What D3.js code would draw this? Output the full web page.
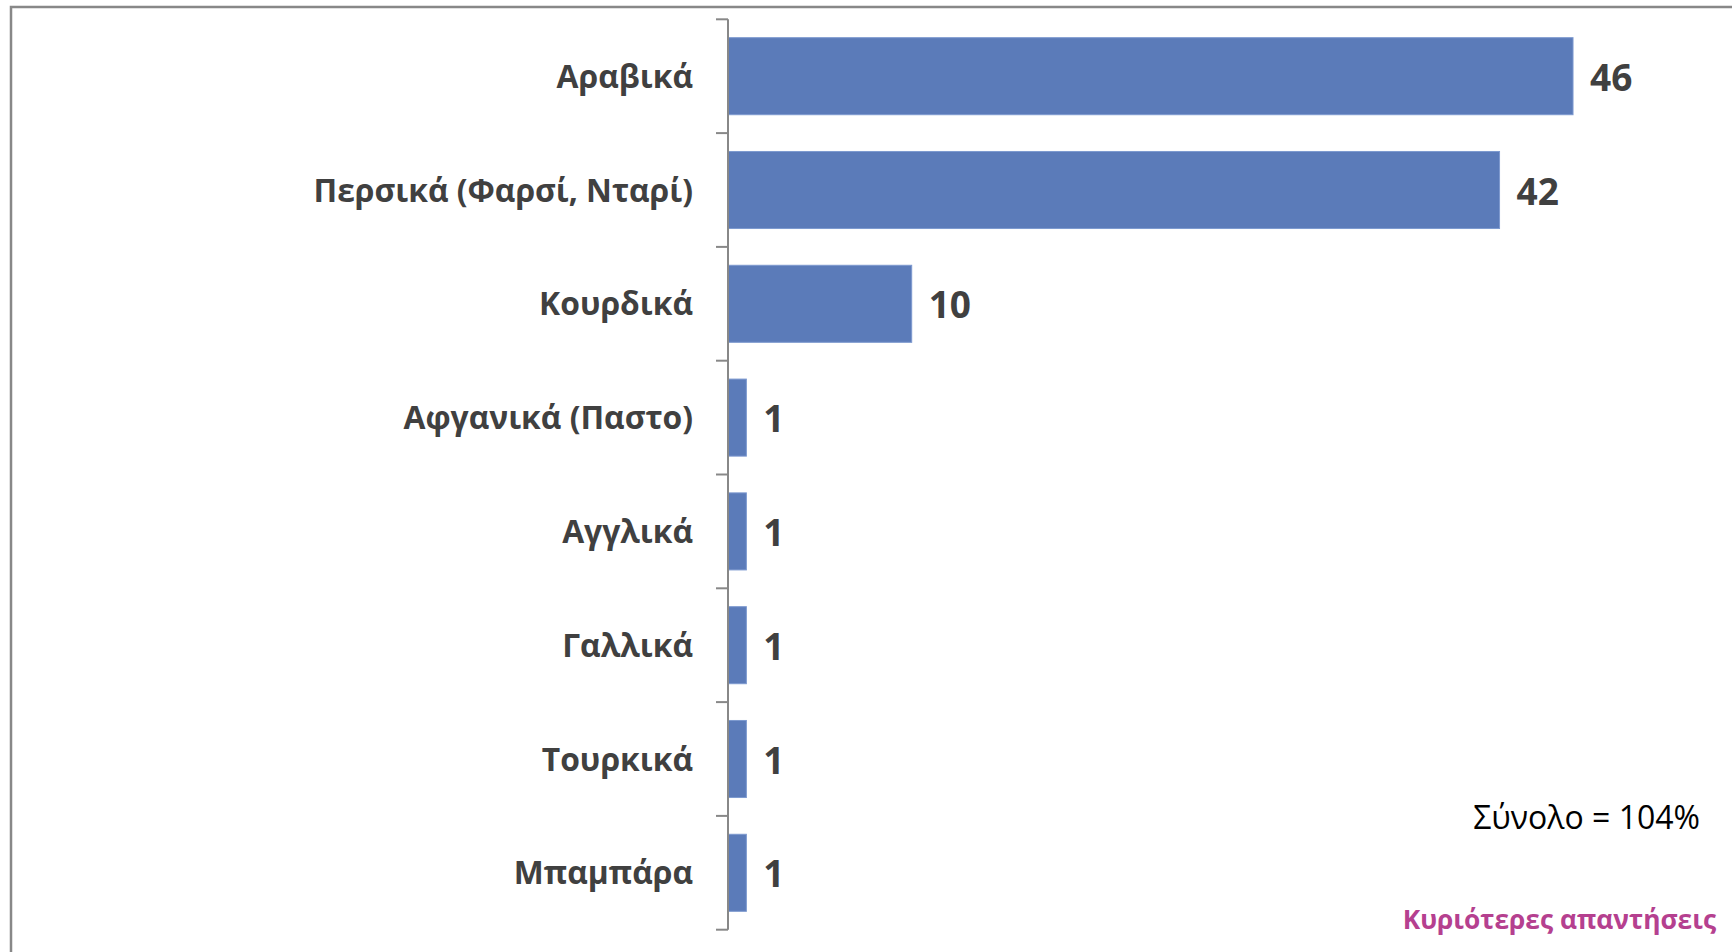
<!DOCTYPE html>
<html>
<head>
<meta charset="utf-8">
<script src="https://cdn.jsdelivr.net/npm/d3@7"></script>
<style>
  body { margin: 0; background: #fff; }
  svg { display: block; }
</style>
</head>
<body>
<div id="chart"></div>
<script>
var width = 1732,
    height = 952;

var languages = ["Αραβικά", "Περσικά (Φαρσί, Νταρί)", "Κουρδικά", "Αφγανικά (Παστο)",
                 "Αγγλικά", "Γαλλικά", "Τουρκικά", "Μπαμπάρα"];
var shares = [46, 42, 10, 1, 1, 1, 1, 1];
var totalNote = "Σύνολο = 104%";
var sourceNote = "Κυριότερες απαντήσεις";

var data = languages.map(function (d, i) { return { name: d, value: shares[i] }; });

var svg = d3.select("#chart")
    .append("svg")
    .attr("width", width)
    .attr("height", height);

// frame of the slide
svg.append("rect")
    .attr("x", 11)
    .attr("y", 7)
    .attr("width", width + 20)
    .attr("height", height + 20)
    .attr("fill", "none")
    .attr("stroke", "#888")
    .attr("stroke-width", 2.5);

var x0 = 728;
var x = d3.scaleLinear()
    .domain([0, 50])
    .range([x0, x0 + 918.5]);

var y = d3.scaleBand()
    .domain(languages)
    .range([19.3, 929.7])
    .paddingInner(0.323)
    .paddingOuter(0.1615);

var step = y.step();

// bars
svg.append("g")
    .selectAll("rect")
    .data(data)
    .enter()
    .append("rect")
    .attr("x", x(0))
    .attr("y", function (d) { return y(d.name); })
    .attr("width", function (d) { return x(d.value) - x(0); })
    .attr("height", y.bandwidth())
    .attr("fill", "#5b7bb9")
    .attr("stroke", "#7d99cf")
    .attr("stroke-width", 1);

// axis line and ticks between categories
var axis = svg.append("g").attr("stroke", "#888").attr("stroke-width", 2);
axis.append("line")
    .attr("x1", x0).attr("x2", x0)
    .attr("y1", y.range()[0]).attr("y2", y.range()[1]);
axis.selectAll(".tick")
    .data(d3.range(languages.length + 1))
    .enter()
    .append("line")
    .attr("class", "tick")
    .attr("x1", x0 - 12).attr("x2", x0)
    .attr("y1", function (i) { return y.range()[0] + i * step; })
    .attr("y2", function (i) { return y.range()[0] + i * step; });

// category labels
svg.append("g")
    .selectAll("text")
    .data(data)
    .enter()
    .append("text")
    .attr("x", x0 - 35)
    .attr("y", function (d) { return y(d.name) + y.bandwidth() / 2 + 11.5; })
    .attr("text-anchor", "end")
    .attr("font-family", "Open Sans")
    .attr("font-weight", "bold")
    .attr("font-size", 31.8)
    .attr("fill", "#404040")
    .text(function (d) { return d.name; });

// value labels
svg.append("g")
    .selectAll("text")
    .data(data)
    .enter()
    .append("text")
    .attr("x", function (d) { return x(d.value) + 17; })
    .attr("y", function (d) { return y(d.name) + y.bandwidth() / 2 + 14.5; })
    .attr("font-family", "Open Sans")
    .attr("font-weight", "bold")
    .attr("font-size", 37)
    .attr("fill", "#404040")
    .text(function (d) { return d.value; });

svg.append("text")
    .attr("x", 1700)
    .attr("y", 829)
    .attr("text-anchor", "end")
    .attr("font-family", "Open Sans")
    .attr("font-size", 32)
    .attr("fill", "#000")
    .text(totalNote);

svg.append("text")
    .attr("x", 1716)
    .attr("y", 929)
    .attr("text-anchor", "end")
    .attr("font-family", "Open Sans")
    .attr("font-weight", "bold")
    .attr("font-size", 26.3)
    .attr("fill", "#b5408f")
    .text(sourceNote);
</script>
</body>
</html>
